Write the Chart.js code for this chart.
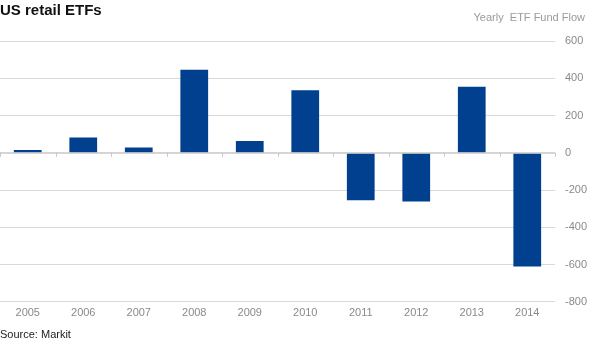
<!DOCTYPE html>
<html lang="en">
<head>
  <meta charset="UTF-8" />
  <title>US retail ETFs</title>
  <script src="https://cdn.jsdelivr.net/npm/chart.js"></script>
<style>
  body {
    margin: 0;
    background: white;
    font-family: "Liberation Sans", Arial, sans-serif;
  }
  #wrap {
    position: relative;
    width: 590px;
    height: 351px;
  }
  #title {
    position: absolute;
    left: 0;
    top: 1px;
    font-size: 15px;
    font-weight: bold;
    color: #111;
  }
  #subtitle {
    position: absolute;
    right: 5px;
    top: 11px;
    font-size: 11px;
    color: #9a9a9a;
  }
  #source {
    position: absolute;
    left: 0;
    top: 328px;
    font-size: 11px;
    color: #222;
  }
  #chart {
    position: absolute;
    left: 0;
    top: 0;
  }
</style>
</head>
<body>
  <div id="wrap">
    <canvas id="chart" width="590" height="351"></canvas>
    <div id="title">US retail ETFs</div>
    <div id="subtitle">Yearly&nbsp; ETF Fund Flow</div>
    <div id="source">Source: Markit</div>
  </div>

  <script>
    // data
    const years = ["2005", "2006", "2007", "2008", "2009", "2010", "2011", "2012", "2013", "2014"];
    const flows = [15, 82, 28, 445, 63, 335, -255, -262, 354, -610];
    const yTicks = [600, 400, 200, 0, -200, -400, -600, -800];

    // small tick marks on the zero line, at category boundaries
    const zeroTicks = {
      id: "zeroTicks",
      afterDatasetsDraw(chart) {
        const x = chart.scales.x, y = chart.scales.y;
        const ctx = chart.ctx;
        const y0 = y.getPixelForValue(0);
        ctx.save();
        ctx.strokeStyle = "#c8c8c8";
        ctx.lineWidth = 1;
        ctx.beginPath();
        for (let i = 0; i <= years.length; i++) {
          const px = Math.round(x.getPixelForValue(i - 0.5)) + 0.5;
          ctx.moveTo(px, y0);
          ctx.lineTo(px, y0 + 4);
        }
        ctx.moveTo(x.left, y0 + 0.5);
        ctx.lineTo(x.right, y0 + 0.5);
        ctx.stroke();
        ctx.restore();
      }
    };

    new Chart(document.getElementById("chart"), {
      type: "bar",
      data: {
        labels: years,
        datasets: [{
          data: flows,
          backgroundColor: "#00408f",
          barPercentage: 0.5,
          categoryPercentage: 1
        }]
      },
      options: {
        responsive: false,
        animation: false,
        layout: { padding: { top: 41, bottom: 26, left: 0, right: 0 } },
        plugins: { legend: { display: false }, tooltip: { enabled: false } },
        scales: {
          x: {
            grid: { display: false, drawTicks: false },
            border: { display: false },
            ticks: {
              color: "#8a8a8a",
              padding: 5,
              font: { family: "'Liberation Sans', Arial", size: 11 }
            }
          },
          y: {
            position: "right",
            min: -800,
            max: 600,
            afterBuildTicks(axis) {
              axis.ticks = yTicks.map(v => ({ value: v }));
            },
            afterFit(axis) {
              axis.width = 35;
            },
            grid: { color: "#d9d9d9", drawTicks: false },
            border: { display: false },
            ticks: {
              color: "#8a8a8a",
              padding: 10,
              font: { family: "'Liberation Sans', Arial", size: 11 }
            }
          }
        }
      },
      plugins: [zeroTicks]
    });
  </script>
</body>
</html>
